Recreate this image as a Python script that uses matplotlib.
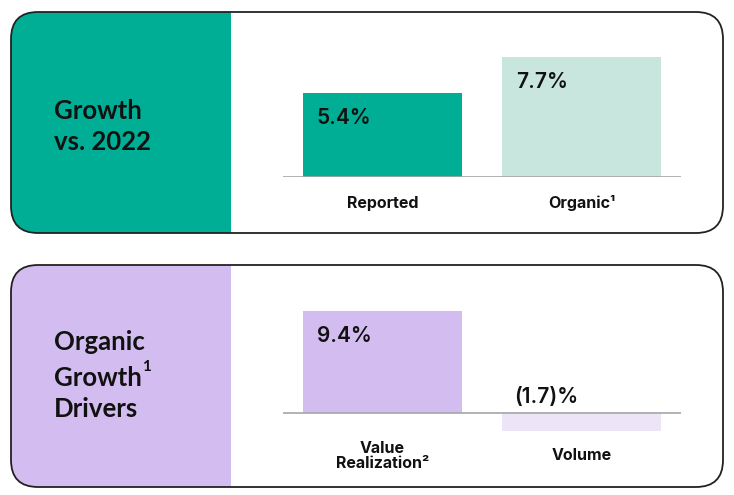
import matplotlib.pyplot as plt
from matplotlib.patches import FancyBboxPatch, Rectangle

W, H = 734, 495

# data
growth_labels = ['Reported', 'Organic¹']
growth_values = [5.4, 7.7]
driver_labels = ['Value\nRealization²', 'Volume']
driver_values = [9.4, -1.7]

growth_colors = ['#00AE95', '#C8E6DE']
driver_colors = ['#D3BCF0', '#EDE4F8']

LEFT_FONT = 'Lato'
RIGHT_FONT = 'Inter'


def fig_rect(x0, y0, x1, y1):
    return [x0 / W, 1 - y1 / H, (x1 - x0) / W, (y1 - y0) / H]


def draw_panel(ax, y0, y1, color):
    x0, x1, split = 11, 723, 231
    r = 27
    style = f"round,pad=0,rounding_size={r}"
    ax.add_patch(FancyBboxPatch((x0, y0), x1 - x0, y1 - y0, boxstyle=style,
                                facecolor='white', edgecolor='none', zorder=1))
    fill = FancyBboxPatch((x0, y0), x1 - x0, y1 - y0, boxstyle=style,
                          facecolor=color, edgecolor='none', zorder=2)
    ax.add_patch(fill)
    clip = Rectangle((x0 - 2, y0 - 2), split - x0 + 2, y1 - y0 + 4,
                     transform=ax.transData)
    fill.set_clip_path(clip)
    ax.add_patch(FancyBboxPatch((x0, y0), x1 - x0, y1 - y0, boxstyle=style,
                                facecolor='none', edgecolor='#222222', lw=1.3, zorder=3))


def draw_bars(rect, baseline_px, scale, values, labels, colors, label_offset):
    x0, y0, x1, y1 = rect
    ax = fig.add_axes(fig_rect(x0, y0, x1, y1), zorder=5)
    ax.set_facecolor('none')
    ax.set_xlim(-0.5, 1.5)
    ax.set_ylim(-(y1 - baseline_px) / scale, (baseline_px - y0) / scale)
    ax.axis('off')
    xs = range(len(values))
    ax.bar(xs, values, width=0.8, color=colors, zorder=2)
    ax.axhline(0, color='#A6A6A6', lw=1.2, zorder=3)
    num_kw = dict(textcoords='offset pixels', ha='left', va='center', fontsize=15,
                  fontfamily=RIGHT_FONT, fontweight='semibold', color='#111111')
    for i, v in enumerate(values):
        if v >= 0:
            ax.annotate(f"{v:.1f}%", xy=(i - 0.4, v), xytext=(14, -25), **num_kw)
        else:
            ax.annotate(f"({abs(v):.1f})%", xy=(i - 0.4, 0), xytext=(12, 16), **num_kw)
        ax.annotate(labels[i], xy=(i, 0), xytext=(0, label_offset), textcoords='offset pixels',
                    ha='center', va='center', fontsize=11.5, fontweight='bold',
                    fontfamily=RIGHT_FONT, color='#111111', linespacing=1.0)
    return ax


fig = plt.figure(figsize=(W / 100, H / 100), dpi=100)
overlay = fig.add_axes([0, 0, 1, 1])
overlay.set_xlim(0, W)
overlay.set_ylim(H, 0)
overlay.axis('off')

draw_panel(overlay, 12, 233, growth_colors[0])
draw_panel(overlay, 265, 487, driver_colors[0])

title_kw = dict(fontsize=18.5, fontweight='bold', fontfamily=LEFT_FONT,
                color='#111111', ha='left', va='center', zorder=6)
overlay.text(54, 111, 'Growth', **title_kw)
overlay.text(54, 142, 'vs. 2022', **title_kw)
overlay.text(54, 342, 'Organic', **title_kw)
overlay.text(54, 378, 'Growth', **title_kw)
overlay.text(54, 409, 'Drivers', **title_kw)
overlay.text(142, 367, '1', fontsize=11, fontweight='bold', fontfamily=LEFT_FONT,
             color='#111111', ha='left', va='center', zorder=6)

draw_bars((283, 40, 681, 177), 177, 15.6, growth_values, growth_labels,
          growth_colors, -26)
draw_bars((283, 290, 681, 440), 413, 10.8, driver_values, driver_labels,
          driver_colors, -43)

fig.savefig('out.png', dpi=100)
